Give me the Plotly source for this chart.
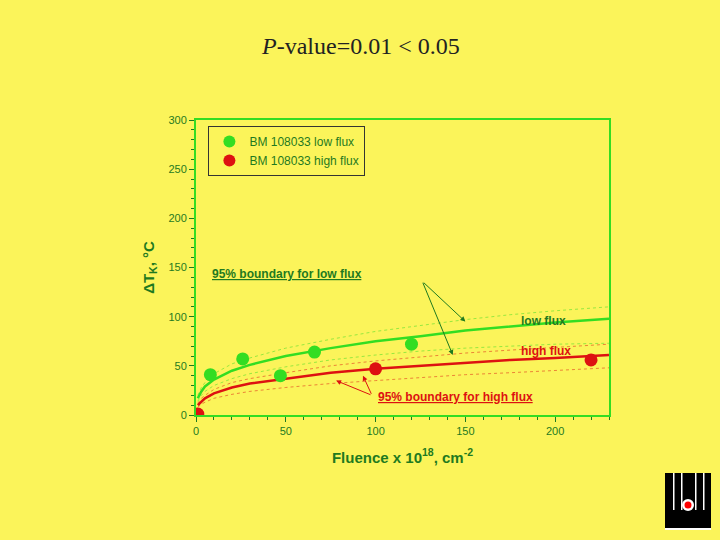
import plotly.graph_objects as go

low_x = [8, 26, 47, 66, 120]
low_y = [41, 57, 40, 64, 72]
high_x = [1, 100, 220]
high_y = [1, 47, 56]

fit_x = [1, 3, 5, 10, 20, 30, 50, 75, 100, 125, 150, 175, 200, 230]
low_fit = [17, 24, 29, 36, 45, 51, 60, 68, 75, 80, 86, 90, 94, 98]
high_fit = [10, 14, 17, 22, 28, 32, 37, 43, 47, 50, 53, 56, 58, 61]
low_up = [20, 28, 33, 42, 52, 58, 68, 77, 85, 91, 97, 102, 106, 110]
low_lo = [14, 20, 24, 30, 37, 42, 49, 56, 61, 65, 68, 70, 72, 73]
high_up = [12, 17, 20, 26, 33, 37, 43, 50, 55, 59, 63, 66, 69, 72]
high_lo = [8, 11, 13, 17, 21, 24, 28, 32, 35, 38, 41, 43, 45, 48]

GREEN = "#33dd22"
DGREEN = "#1f7a1f"
RED = "#dd1111"
BG = "#fbf45a"

ML, MR, MT, MB = 196, 111, 120, 125
PW, PH = 720 - ML - MR, 540 - MT - MB

def px(x, y):
    return (x - ML) / PW, (540 - MB - y) / PH

fig = go.Figure()
for ys, c in [(low_up, GREEN), (low_lo, GREEN), (high_up, RED), (high_lo, RED)]:
    fig.add_trace(go.Scatter(x=fit_x, y=ys, mode="lines", line=dict(color=c, width=0.7, dash="dot"),
                             opacity=0.7, showlegend=False, hoverinfo="skip"))
fig.add_trace(go.Scatter(x=fit_x, y=low_fit, mode="lines", line=dict(color=GREEN, width=2.5), showlegend=False))
fig.add_trace(go.Scatter(x=fit_x, y=high_fit, mode="lines", line=dict(color=RED, width=2.5), showlegend=False))
fig.add_trace(go.Scatter(x=low_x, y=low_y, mode="markers", marker=dict(color=GREEN, size=13),
                         name="BM 108033 low flux"))
fig.add_trace(go.Scatter(x=high_x, y=high_y, mode="markers", marker=dict(color=RED, size=13),
                         name="BM 108033 high flux"))

fig.update_layout(
    width=720, height=540, paper_bgcolor=BG, plot_bgcolor=BG,
    margin=dict(l=ML, r=MR, t=MT, b=MB),
    font=dict(family="Liberation Sans", color=DGREEN, size=11),
    legend=dict(x=0.03, y=0.98, xanchor="left", yanchor="top", bgcolor=BG, itemsizing="constant",
                bordercolor="#333333", borderwidth=1, font=dict(size=12, color=DGREEN)),
    xaxis=dict(range=[0, 230], tickvals=[0, 50, 100, 150, 200], showgrid=False, zeroline=False,
               showline=True, mirror=True, linecolor=GREEN, linewidth=2, ticks="outside",
               tickcolor=DGREEN, minor=dict(ticks="outside", dtick=10, tickcolor=DGREEN, ticklen=3),
               title=dict(text="<b>Fluence x 10<sup>18</sup>, cm<sup>-2</sup></b>", font=dict(size=15, color=DGREEN), standoff=16)),
    yaxis=dict(range=[0, 300], dtick=50, showgrid=False, zeroline=False,
               showline=True, mirror=True, linecolor=GREEN, linewidth=2, ticks="outside",
               tickcolor=DGREEN, minor=dict(ticks="outside", dtick=10, tickcolor=DGREEN, ticklen=3),
               title=dict(text="<b>ΔT<sub>K</sub>, °C</b>", font=dict(size=15, color=DGREEN), standoff=10)),
)

tx, ty = px(360, 46)
fig.add_annotation(x=tx, y=ty, xref="paper", yref="paper", showarrow=False, yanchor="middle",
                   text="<i>P</i>-value=0.01 &lt; 0.05", font=dict(family="Liberation Serif", size=24, color="#222222"))

fig.add_annotation(x=8, y=143, xanchor="left", showarrow=False,
                   text="<b><u>95% boundary for low flux</u></b>", font=dict(size=12, color=DGREEN))
fig.add_annotation(x=100, y=18, xanchor="left", showarrow=False,
                   text="<b><u>95% boundary for high flux</u></b>", font=dict(size=12, color=RED))
fig.add_annotation(x=180, y=96, xanchor="left", showarrow=False, text="<b>low flux</b>", font=dict(size=12, color=DGREEN))
fig.add_annotation(x=180, y=65, xanchor="left", showarrow=False, text="<b>high flux</b>", font=dict(size=12, color=RED))

arrows = [((126, 136), (150, 95), DGREEN), ((126, 136), (143, 61), DGREEN),
          ((98, 20), (78, 35), RED), ((98, 20), (93, 40), RED)]
for (x0, y0), (x1, y1), c in arrows:
    fig.add_annotation(x=x1, y=y1, ax=x0, ay=y0, axref="x", ayref="y", showarrow=True,
                       arrowhead=2, arrowsize=1, arrowwidth=1, arrowcolor=c, text="")

# logo
def rect(xa, ya, xb, yb, color):
    a, b = px(xa, ya); c, d = px(xb, yb)
    fig.add_shape(type="rect", xref="paper", yref="paper", x0=a, y0=d, x1=c, y1=b, fillcolor=color, line_width=0)

rect(665, 473, 711, 530, "black")
for xs in [673, 681, 695, 703]:
    rect(xs, 473, xs + 1.5, 510, "white")
rect(665, 528, 711, 530, "white")
def circ(cx, cy, r, color):
    a, b = px(cx - r, cy + r); c, d = px(cx + r, cy - r)
    fig.add_shape(type="circle", xref="paper", yref="paper", x0=a, y0=b, x1=c, y1=d, fillcolor=color, line_width=0)
circ(688, 505, 6, "white")
circ(688, 505, 3.5, "red")

fig.write_html("out.html", config={"displayModeBar": False},
               post_script="document.body.style.margin='0';document.body.style.background='%s';" % BG)
